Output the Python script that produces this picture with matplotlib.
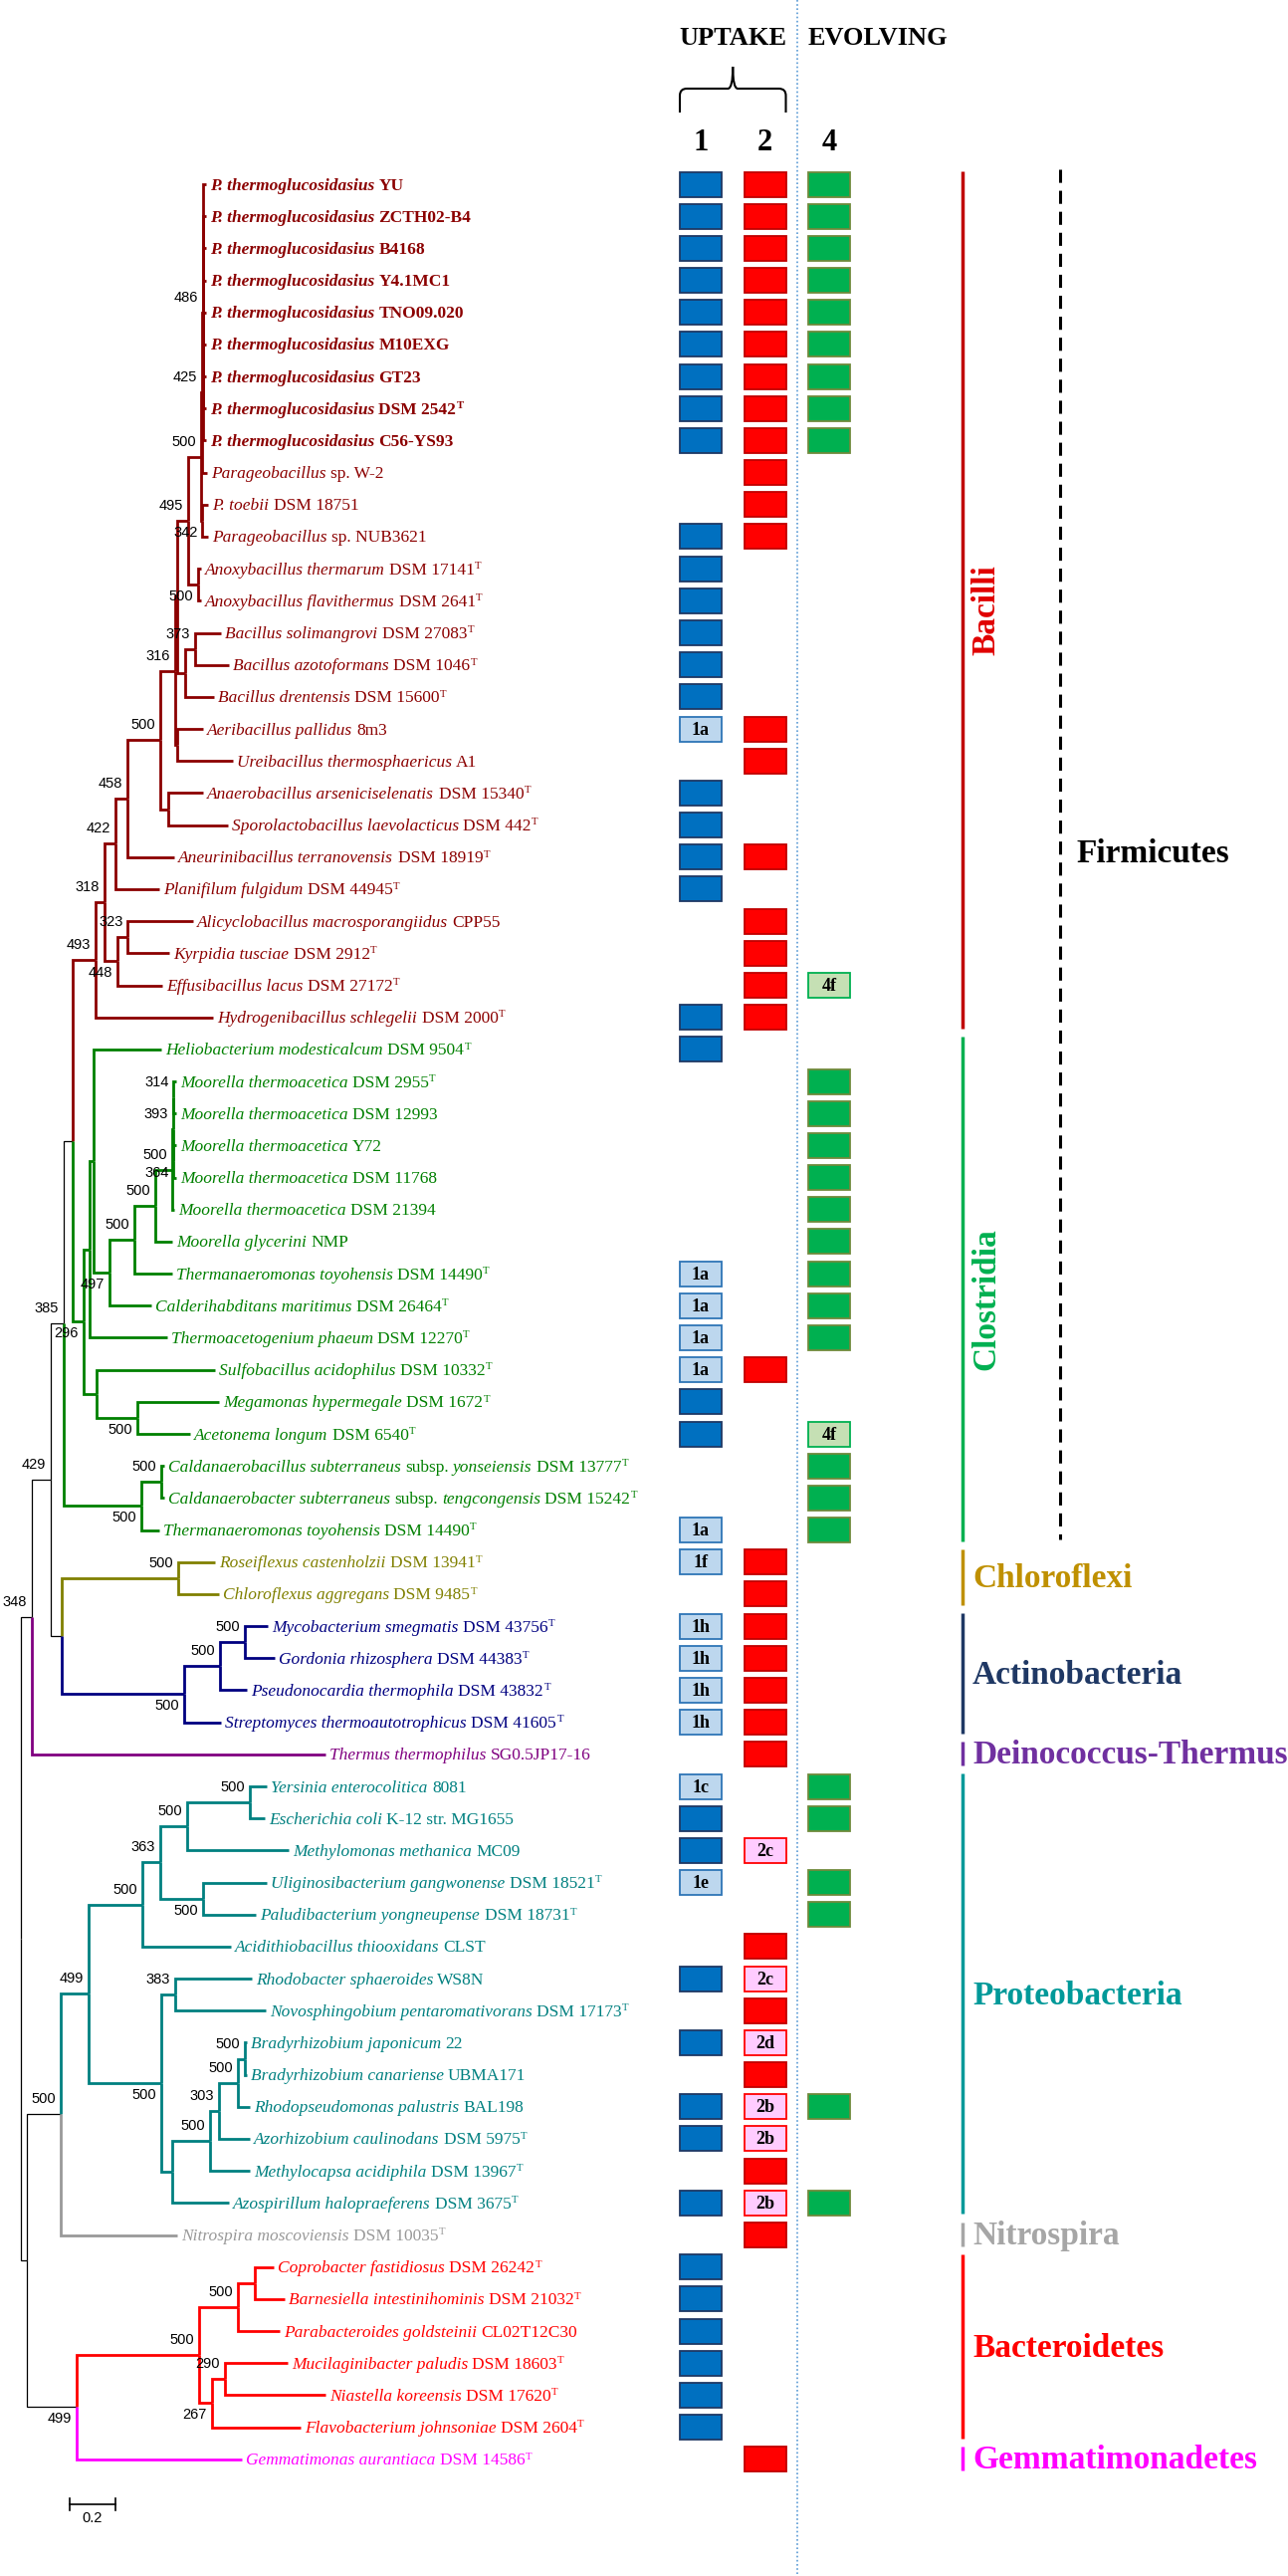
import matplotlib
matplotlib.use("Agg")
import matplotlib.pyplot as plt
from matplotlib.patches import Rectangle, PathPatch
from matplotlib.path import Path

SERIF = ["Liberation Serif", "DejaVu Serif"]
SANS = ["Liberation Sans", "DejaVu Sans"]

# ── Tree (Newick pieces; branch lengths in subst./site; bootstrap of 500) ─────
GEOBACILLUS = ("(((1:.011,2:.011,3:.011,4:.011,5:.011,6:.011,7:.011,8:.011,9:.011)486:.007,"
               "10:.024)425:.004,(11:.026,12:.026)342:.007)500:.057")
BACILLI = ("((((((((" + GEOBACILLUS + ",(13:.012,14:.012)500:.045)495:.046,"
           "((15:.113,16:.148)373:.045,17:.125):.034):.011,(18:.114,19:.243):.011)316:.062,"
           "(20:.155,21:.261):.032)500:.143,22:.204)458:.052,23:.189)422:.050,"
           "((24:.284,25:.182)323:.045,26:.197)448:.057)318:.041,27:.517)493:.100")
MOORELLA = "(((29:.011,30:.011)314:.003,(31:.011,32:.011)364:.003)393:.003,33:.010)500:.073"
CLOSTRIDIA = ("(((28:.295,(((" + MOORELLA + ",34:.073)500:.091,35:.163)500:.110,36:.182)497:.068)"
              ":.018,37:.337):.027,(38:.518,(39:.357,40:.233)500:.177):.057)296:.050")
CALDANAERO = "((41:.011,42:.011)500:.086,43:.075)500:.341"
CHLOROFLEXI = "(44:.161,45:.177)500:.510"
ACTINO = "(((46:.102,47:.132)500:.109,48:.120)500:.157,49:.164)500:.534"
PROTEO = ("(((((51:.075,52:.064)500:.273,53:.443)500:.118,(54:.280,55:.232)500:.187)363:.080,"
          "56:.387)500:.234,((57:.332,58:.393)383:.062,(((((59:.007,60:.007)500:.030,61:.052)"
          "500:.084,62:.136)303:.039,63:.175)500:.166,64:.250):.046)500:.318)499:.120")
BACTEROIDETES = ("(((66:.084,67:.129):.075,68:.182)500:.170,"
                 "((69:.273,70:.439)290:.057,71:.387)267:.057)500:.532")

FIRMICUTES = f"({BACILLI},{CLOSTRIDIA}):.037"
UPPER = f"((({FIRMICUTES},{CALDANAERO})385:.057,({CHLOROFLEXI},{ACTINO}):.048)429:.084,50:1.285)348:.046"
LOWER = f"(({PROTEO},65:.507)500:.148,({BACTEROIDETES},72:.721)499:.218):.027"
TREE = f"({UPPER},{LOWER});"

# ── Leaf labels: *italic*, ^T = type strain ───────────────────────────────────
LEAF_LABELS = [
    "*P. thermoglucosidasius* YU", "*P. thermoglucosidasius* ZCTH02-B4",
    "*P. thermoglucosidasius* B4168", "*P. thermoglucosidasius* Y4.1MC1",
    "*P. thermoglucosidasius* TNO09.020", "*P. thermoglucosidasius* M10EXG",
    "*P. thermoglucosidasius* GT23", "*P. thermoglucosidasius* DSM 2542^T",
    "*P. thermoglucosidasius* C56-YS93", "*Parageobacillus* sp. W-2",
    "*P. toebii* DSM 18751", "*Parageobacillus* sp. NUB3621",
    "*Anoxybacillus thermarum* DSM 17141^T", "*Anoxybacillus flavithermus* DSM 2641^T",
    "*Bacillus solimangrovi* DSM 27083^T", "*Bacillus azotoformans* DSM 1046^T",
    "*Bacillus drentensis* DSM 15600^T", "*Aeribacillus pallidus* 8m3",
    "*Ureibacillus thermosphaericus* A1", "*Anaerobacillus arseniciselenatis* DSM 15340^T",
    "*Sporolactobacillus laevolacticus* DSM 442^T", "*Aneurinibacillus terranovensis* DSM 18919^T",
    "*Planifilum fulgidum* DSM 44945^T", "*Alicyclobacillus macrosporangiidus* CPP55",
    "*Kyrpidia tusciae* DSM 2912^T", "*Effusibacillus lacus* DSM 27172^T",
    "*Hydrogenibacillus schlegelii* DSM 2000^T", "*Heliobacterium modesticalcum* DSM 9504^T",
    "*Moorella thermoacetica* DSM 2955^T", "*Moorella thermoacetica* DSM 12993",
    "*Moorella thermoacetica* Y72", "*Moorella thermoacetica* DSM 11768",
    "*Moorella thermoacetica* DSM 21394", "*Moorella glycerini* NMP",
    "*Thermanaeromonas toyohensis* DSM 14490^T", "*Calderihabditans maritimus* DSM 26464^T",
    "*Thermoacetogenium phaeum* DSM 12270^T", "*Sulfobacillus acidophilus* DSM 10332^T",
    "*Megamonas hypermegale* DSM 1672^T", "*Acetonema longum* DSM 6540^T",
    "*Caldanaerobacillus subterraneus* subsp. *yonseiensis* DSM 13777^T",
    "*Caldanaerobacter subterraneus* subsp. *tengcongensis* DSM 15242^T",
    "*Thermanaeromonas toyohensis* DSM 14490^T", "*Roseiflexus castenholzii* DSM 13941^T",
    "*Chloroflexus aggregans* DSM 9485^T", "*Mycobacterium smegmatis* DSM 43756^T",
    "*Gordonia rhizosphera* DSM 44383^T", "*Pseudonocardia thermophila* DSM 43832^T",
    "*Streptomyces thermoautotrophicus* DSM 41605^T", "*Thermus thermophilus* SG0.5JP17-16",
    "*Yersinia enterocolitica* 8081", "*Escherichia coli* K-12 str. MG1655",
    "*Methylomonas methanica* MC09", "*Uliginosibacterium gangwonense* DSM 18521^T",
    "*Paludibacterium yongneupense* DSM 18731^T", "*Acidithiobacillus thiooxidans* CLST",
    "*Rhodobacter sphaeroides* WS8N", "*Novosphingobium pentaromativorans* DSM 17173^T",
    "*Bradyrhizobium japonicum* 22", "*Bradyrhizobium canariense* UBMA171",
    "*Rhodopseudomonas palustris* BAL198", "*Azorhizobium caulinodans* DSM 5975^T",
    "*Methylocapsa acidiphila* DSM 13967^T", "*Azospirillum halopraeferens* DSM 3675^T",
    "*Nitrospira moscoviensis* DSM 10035^T", "*Coprobacter fastidiosus* DSM 26242^T",
    "*Barnesiella intestinihominis* DSM 21032^T", "*Parabacteroides goldsteinii* CL02T12C30",
    "*Mucilaginibacter paludis* DSM 18603^T", "*Niastella koreensis* DSM 17620^T",
    "*Flavobacterium johnsoniae* DSM 2604^T", "*Gemmatimonas aurantiaca* DSM 14586^T",
]
BOLD_LEAVES = [1, 2, 3, 4, 5, 6, 7, 8, 9]

# ── Clades ────────────────────────────────────────────────────────────────────
CLADE_NAMES = ["Bacilli", "Clostridia", "Chloroflexi", "Actinobacteria", "Deinococcus-Thermus",
               "Proteobacteria", "Nitrospira", "Bacteroidetes", "Gemmatimonadetes"]
CLADE_FIRST = [1, 28, 44, 46, 50, 51, 65, 66, 72]
CLADE_LAST = [27, 43, 45, 49, 50, 64, 65, 71, 72]
TREE_COLORS = ["#8b0000", "#008000", "#808000", "#000080", "#800080",
               "#008080", "#999999", "#ff0000", "#ff00ff"]
BAR_COLORS = ["#c00000", "#00b050", "#bf9000", "#1f3864", "#7030a0",
              "#009999", "#a6a6a6", "#ff0000", "#ff00ff"]
NAME_COLORS = ["#e00000", "#00b050", "#bf9000", "#1f3864", "#7030a0",
               "#009999", "#a6a6a6", "#ff0000", "#ff00ff"]
CLADE_VERTICAL = [True, True, False, False, False, False, False, False, False]
PHYLUM_NAME = "Firmicutes"
PHYLUM_LEAVES = (1, 43)

# ── Gene columns (one entry per leaf): '' none, B/R/G present, else subtype ───
UPTAKE_1 = (["B"] * 9 + ["", "", "B"] + ["B"] * 5 + ["1a", "", "B", "B", "B", "B"]
            + ["", "", "", "B", "B"] + [""] * 6
            + ["1a", "1a", "1a", "1a", "B", "B", "", "", "1a"] + ["1f", ""] + ["1h"] * 4 + [""]
            + ["1c", "B", "B", "1e", "", "", "B", "", "B", "", "B", "B", "", "B"]
            + [""] + ["B"] * 6 + [""])
UPTAKE_2 = (["R"] * 12 + [""] * 5 + ["R", "R", "", "", "R", "", "R", "R", "R", "R"]
            + [""] * 10 + ["R"] + [""] * 5 + ["R"] * 7
            + ["", "", "2c", "", "", "R", "2c", "R", "2d", "R", "2b", "2b", "R", "2b"]
            + ["R"] + [""] * 6 + ["R"])
EVOLVING_4 = (["G"] * 9 + [""] * 16 + ["4f", "", ""] + ["G"] * 9 + ["", "", "4f", "G", "G", "G"]
              + [""] * 7 + ["G", "G", "", "G", "G", "", "", "", "", "", "G", "", "", "G"]
              + [""] * 8)

# ── Layout (pixels) ───────────────────────────────────────────────────────────
W_PX, H_PX = 1294, 2587
ROOT_X = 21
PX_PER_UNIT = 230
LEAF_Y0, LEAF_STEP = 185, 32.18
LEAF_FS = 12.5
COL_X = {1: 704, 2: 768.5, 4: 833}
BOX_W, BOX_H = 42, 25
BAR_X = 967
DIVIDER_X = 801
PHYLUM_X = 1065


def leaf_y(i):
    return LEAF_Y0 + (i - 1) * LEAF_STEP


def parse_newick(s):
    s = "".join(s.split())
    pos = 0

    def read():
        nonlocal pos
        kids = []
        if s[pos] == "(":
            pos += 1
            kids.append(read())
            while s[pos] == ",":
                pos += 1
                kids.append(read())
            pos += 1
        start = pos
        while s[pos] not in ":,);":
            pos += 1
        label = s[start:pos]
        length = 0.0
        if s[pos] == ":":
            pos += 1
            start = pos
            while s[pos] not in ",);":
                pos += 1
            length = float(s[start:pos])
        return {"label": label, "len": length, "kids": kids}

    return read()


leaf_clade = {}
for ci, (a, b) in enumerate(zip(CLADE_FIRST, CLADE_LAST)):
    for i in range(a, b + 1):
        leaf_clade[i] = ci


def layout(node, x):
    node["x"] = x
    if not node["kids"]:
        i = int(node["label"])
        node["y"] = leaf_y(i)
        node["clades"] = {leaf_clade[i]}
        return
    for k in node["kids"]:
        layout(k, x + k["len"] * PX_PER_UNIT)
    node["y"] = (node["kids"][0]["y"] + node["kids"][-1]["y"]) / 2
    node["clades"] = set().union(*[k["clades"] for k in node["kids"]])


def node_color(node):
    if len(node["clades"]) == 1:
        return TREE_COLORS[next(iter(node["clades"]))]
    return "black"


fig = plt.figure(figsize=(W_PX / 100, H_PX / 100), dpi=100)
ax = fig.add_axes([0, 0, 1, 1])
ax.set_xlim(0, W_PX)
ax.set_ylim(H_PX, 0)
ax.axis("off")

root = parse_newick(TREE)
layout(root, ROOT_X)


def draw(node):
    n = len(node["kids"])
    for j, k in enumerate(node["kids"]):
        col = node_color(k)
        lw = 0.9 if col == "black" else 2.0
        ax.plot([node["x"], node["x"], k["x"]], [node["y"], k["y"], k["y"]],
                color=col, lw=lw, solid_joinstyle="miter", solid_capstyle="butt")
        if k["kids"] and k["label"] and (j == 0 or j == n - 1):
            dy = -15 if j == 0 else 12
            ax.text(k["x"] - 5, k["y"] + dy, k["label"], ha="right", va="center",
                    fontsize=10.5, family=SANS, color="black")
        draw(k)


def split_markup(m):
    sup = m.endswith("^T")
    if sup:
        m = m[:-2]
    segs = []
    for i, p in enumerate(m.split("*")):
        if p:
            segs.append((p, "italic" if i % 2 else "normal"))
    if sup:
        segs.append(("T", "sup"))
    return segs


def leaf_label(node):
    i = int(node["label"])
    col = TREE_COLORS[leaf_clade[i]]
    weight = "bold" if i in BOLD_LEAVES else "normal"
    space = 0.25 * LEAF_FS
    prev = None
    pending = False
    for text, style in split_markup(LEAF_LABELS[i - 1]):
        gap = space if (pending or text.startswith(" ")) else 0
        pending = text.endswith(" ")
        t = text.strip()
        kw = dict(color=col, family=SERIF, fontweight=weight)
        if prev is None:
            prev = ax.text(node["x"] + 4, node["y"] + 5.5, t, ha="left", va="baseline",
                           fontsize=LEAF_FS, fontstyle=style, **kw)
        elif style == "sup":
            prev = ax.annotate(t, xy=(1, 1), xycoords=prev, xytext=(0.3, 0.5),
                               textcoords="offset points", ha="left", va="top",
                               fontsize=LEAF_FS * 0.62, **kw)
        else:
            prev = ax.annotate(t, xy=(1, 0), xycoords=prev, xytext=(gap, 0),
                               textcoords="offset points", ha="left", va="bottom",
                               fontsize=LEAF_FS, fontstyle=style, **kw)


def leaves(node):
    if not node["kids"]:
        yield node
    for k in node["kids"]:
        yield from leaves(k)


draw(root)
for lf in leaves(root):
    leaf_label(lf)

# ── Scale bar ─────────────────────────────────────────────────────────────────
sb_x0, sb_y = 70, 2515
sb_x1 = sb_x0 + 0.2 * PX_PER_UNIT
ax.plot([sb_x0, sb_x1], [sb_y, sb_y], color="black", lw=1.2)
for xx in (sb_x0, sb_x1):
    ax.plot([xx, xx], [sb_y - 6, sb_y + 6], color="black", lw=1.2)
ax.text((sb_x0 + sb_x1) / 2, sb_y + 14, "0.2", ha="center", va="center",
        fontsize=10.5, family=SANS)

# ── Gene presence boxes ───────────────────────────────────────────────────────
PLAIN = {"B": ("#0070c0", "#1f3864"), "R": ("#ff0000", "#c00000"), "G": ("#00b050", "#6f8a3c")}
SUBTYPE = {1: ("#bdd7ee", "#2e75b6"), 2: ("#ffccff", "#ff0000"), 4: ("#c5e0b4", "#00b050")}

for col_id, codes in ((1, UPTAKE_1), (2, UPTAKE_2), (4, EVOLVING_4)):
    cx = COL_X[col_id]
    for i, code in enumerate(codes, start=1):
        if not code:
            continue
        y = leaf_y(i)
        face, edge = PLAIN.get(code, SUBTYPE[col_id])
        ax.add_patch(Rectangle((cx - BOX_W / 2, y - BOX_H / 2), BOX_W, BOX_H,
                               facecolor=face, edgecolor=edge, lw=1.3))
        if code not in PLAIN:
            ax.text(cx, y + 1, code, ha="center", va="center", fontsize=13,
                    fontweight="bold", family=SERIF, color="black")

# headers
ax.text((COL_X[1] + COL_X[2]) / 2, 38, "UPTAKE", ha="center", va="center",
        fontsize=19, fontweight="bold", family=SERIF)
ax.text(COL_X[4] - BOX_W / 2, 38, "EVOLVING", ha="left", va="center",
        fontsize=19, fontweight="bold", family=SERIF)
for col_id, cx in COL_X.items():
    ax.text(cx, 143, str(col_id), ha="center", va="center", fontsize=22,
            fontweight="bold", family=SERIF)

# brace over columns 1 and 2
bx0, bx1 = COL_X[1] - BOX_W / 2, COL_X[2] + BOX_W / 2
bm = (bx0 + bx1) / 2
ytop, ymid, ybot, r = 67, 89, 113, 7
verts = [(bx0, ybot), (bx0, ymid + r), (bx0, ymid), (bx0 + r, ymid), (bm - 5, ymid),
         (bm, ymid), (bm, ytop), (bm, ymid), (bm + 5, ymid), (bx1 - r, ymid),
         (bx1, ymid), (bx1, ymid + r), (bx1, ybot)]
codes = [Path.MOVETO, Path.LINETO, Path.CURVE3, Path.CURVE3, Path.LINETO,
         Path.CURVE3, Path.CURVE3, Path.CURVE3, Path.CURVE3, Path.LINETO,
         Path.CURVE3, Path.CURVE3, Path.LINETO]
ax.add_patch(PathPatch(Path(verts, codes), facecolor="none", edgecolor="black", lw=1.5))

# dotted divider between UPTAKE and EVOLVING
ax.plot([DIVIDER_X, DIVIDER_X], [0, H_PX], color="#5b9bd5", lw=1.2, ls=(0, (1, 1.5)))

# ── Clade bars and names ──────────────────────────────────────────────────────
for name, a, b, bc, nc, vert in zip(CLADE_NAMES, CLADE_FIRST, CLADE_LAST,
                                     BAR_COLORS, NAME_COLORS, CLADE_VERTICAL):
    y0, y1 = leaf_y(a) - 13, leaf_y(b) + 11
    ax.plot([BAR_X, BAR_X], [y0, y1], color=bc, lw=2.5, solid_capstyle="butt")
    if vert:
        ax.text(BAR_X + 24, (y0 + y1) / 2 + 10, name, rotation=90, ha="center", va="center",
                fontsize=24, fontweight="bold", family=SERIF, color=nc)
    else:
        ax.text(BAR_X + 10, (y0 + y1) / 2 + 2, name, ha="left", va="center",
                fontsize=24, fontweight="bold", family=SERIF, color=nc)

p0, p1 = leaf_y(PHYLUM_LEAVES[0]) - 15, leaf_y(PHYLUM_LEAVES[1]) + 9
ax.plot([PHYLUM_X, PHYLUM_X], [p0, p1], color="black", lw=2.2, ls=(0, (4.3, 2.6)))
ax.text(PHYLUM_X + 16, (p0 + p1) / 2, PHYLUM_NAME, ha="left", va="center",
        fontsize=24, fontweight="bold", family=SERIF, color="black")

fig.savefig("out.png", dpi=100)
